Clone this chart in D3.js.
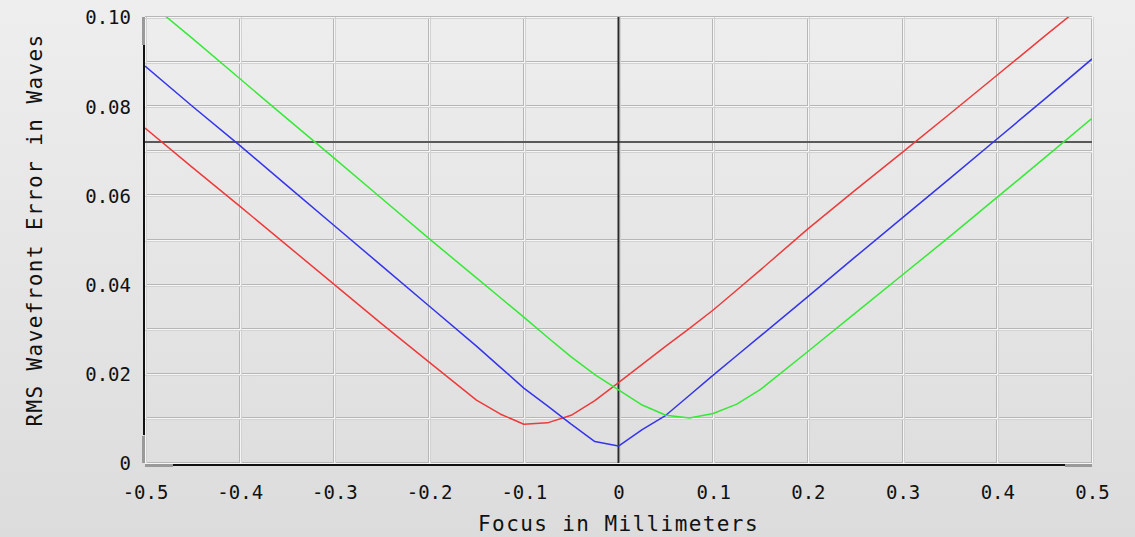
<!DOCTYPE html>
<html>
<head>
<meta charset="utf-8">
<script src="https://cdn.jsdelivr.net/npm/d3@7"></script>
<style>
  html, body { margin: 0; padding: 0; background: #e4e4e4; }
  svg { display: block; }
  text { font-family: "DejaVu Sans Mono", monospace; fill: #111; }
</style>
</head>
<body>
<svg id="chart" width="1135" height="537"></svg>
<script>
// Focus positions (mm) at which the wavefront error was sampled
const focusMm = [-0.5, -0.45, -0.4, -0.35, -0.3, -0.25, -0.2, -0.15, -0.125, -0.1, -0.075, -0.05, -0.025,
                 0, 0.025, 0.05, 0.075, 0.1, 0.125, 0.15, 0.2, 0.25, 0.3, 0.35, 0.4, 0.45, 0.5];

// RMS wavefront error (waves) per wavelength
const redRms   = [0.0751, 0.0663, 0.0576, 0.0488, 0.0400, 0.0312, 0.0226, 0.0141, 0.0110, 0.0087, 0.0090, 0.0107, 0.0140,
                  0.0180, 0.0221, 0.0262, 0.0302, 0.0343, 0.0388, 0.0433, 0.0525, 0.0612, 0.0697, 0.0783, 0.0870, 0.0957, 0.1043];
const blueRms  = [0.0890, 0.0800, 0.0712, 0.0622, 0.0532, 0.0442, 0.0352, 0.0262, 0.0215, 0.0168, 0.0128, 0.0087, 0.0048,
                  0.0038, 0.0075, 0.0107, 0.0152, 0.0197, 0.0241, 0.0285, 0.0373, 0.0462, 0.0550, 0.0638, 0.0727, 0.0816, 0.0906];
const greenRms = [0.1040, 0.0952, 0.0862, 0.0772, 0.0683, 0.0593, 0.0503, 0.0415, 0.0371, 0.0327, 0.0282, 0.0238, 0.0198,
                  0.0164, 0.0130, 0.0107, 0.0101, 0.0111, 0.0132, 0.0165, 0.0250, 0.0336, 0.0422, 0.0508, 0.0596, 0.0684, 0.0773];

const seriesColors = ["#ee3a3a", "#3434ec", "#34ea34"];

// Tolerance reference line (waves)
const toleranceRms = 0.072;

// Tick values
const xTicks = [-0.5, -0.4, -0.3, -0.2, -0.1, 0, 0.1, 0.2, 0.3, 0.4, 0.5];
const yTicks = [0, 0.02, 0.04, 0.06, 0.08, 0.10];
const yGrid  = [0, 0.01, 0.02, 0.03, 0.04, 0.05, 0.06, 0.07, 0.08, 0.09, 0.10];

const svg = d3.select("#chart");
const W = 1135, H = 537;
const pLeft = 145, pRight = 1092, pTop = 17, pBottom = 463;

const x = d3.scaleLinear().domain([-0.5, 0.5]).range([pLeft, pRight]);
const y = d3.scaleLinear().domain([0, 0.1]).range([pBottom, pTop]);

// Background gradient
const defs = svg.append("defs");
const bg = defs.append("linearGradient").attr("id", "bg").attr("x1", 0).attr("y1", 0).attr("x2", 0).attr("y2", 1);
bg.append("stop").attr("offset", "0%").attr("stop-color", "#eeeeee");
bg.append("stop").attr("offset", "100%").attr("stop-color", "#dcdcdc");
svg.append("rect").attr("width", W).attr("height", H).attr("fill", "url(#bg)");

defs.append("clipPath").attr("id", "plotClip")
  .append("rect").attr("x", pLeft).attr("y", pTop).attr("width", pRight - pLeft).attr("height", pBottom - pTop);

// Embossed grid: a shaded edge, a highlight, and a soft edge
const grid = svg.append("g").attr("shape-rendering", "crispEdges");
const gridStyle = [[-1, "#b6b6b6"], [0, "#f6f6f6"], [1, "#d2d2d2"]];
gridStyle.forEach(([off, col]) => {
  grid.append("g").selectAll("line").data(xTicks).join("line")
    .attr("x1", d => Math.round(x(d)) + off + 0.5).attr("x2", d => Math.round(x(d)) + off + 0.5)
    .attr("y1", pTop).attr("y2", pBottom)
    .attr("stroke", col).attr("stroke-width", 1);
  grid.append("g").selectAll("line").data(yGrid).join("line")
    .attr("y1", d => Math.round(y(d)) + off + 0.5).attr("y2", d => Math.round(y(d)) + off + 0.5)
    .attr("x1", pLeft).attr("x2", pRight)
    .attr("stroke", col).attr("stroke-width", 1);
});

// Reference lines: tolerance level and nominal focus
svg.append("line")
  .attr("x1", pLeft).attr("x2", pRight)
  .attr("y1", y(toleranceRms)).attr("y2", y(toleranceRms))
  .attr("stroke", "#595959").attr("stroke-width", 2);
svg.append("line")
  .attr("x1", x(0)).attr("x2", x(0))
  .attr("y1", pTop).attr("y2", pBottom)
  .attr("stroke", "#2a2a2a").attr("stroke-width", 2);

// Axis rails with end caps
const rails = svg.append("g").attr("shape-rendering", "crispEdges");
rails.append("rect").attr("x", pLeft - 3).attr("y", pTop).attr("width", 3).attr("height", 28).attr("fill", "#9a9a9a");
rails.append("rect").attr("x", pLeft - 2).attr("y", pTop + 28).attr("width", 2).attr("height", 390).attr("fill", "#111");
rails.append("rect").attr("x", pLeft - 3).attr("y", pBottom - 27).attr("width", 3).attr("height", 27).attr("fill", "#9a9a9a");
rails.append("rect").attr("x", pLeft).attr("y", pBottom + 1).attr("width", 28).attr("height", 3).attr("fill", "#9a9a9a");
rails.append("rect").attr("x", pLeft + 28).attr("y", pBottom + 1).attr("width", 892).attr("height", 2).attr("fill", "#111");
rails.append("rect").attr("x", pRight - 27).attr("y", pBottom + 1).attr("width", 27).attr("height", 3).attr("fill", "#9a9a9a");

// Series lines
const line = d3.line().x((d, i) => x(focusMm[i])).y(d => y(d));
const plot = svg.append("g").attr("clip-path", "url(#plotClip)");
[redRms, blueRms, greenRms].forEach((vals, k) => {
  plot.append("path").datum(vals)
    .attr("d", line)
    .attr("fill", "none")
    .attr("stroke", seriesColors[k])
    .attr("stroke-width", 1.5)
    .attr("stroke-linejoin", "round");
});

// Axes
const fmtX = d => d === 0 ? "0" : d3.format(".1f")(d).replace("−", "-");
const fmtY = d => d === 0 ? "0" : d3.format(".2f")(d);

const yAxis = svg.append("g").attr("transform", `translate(${pLeft},0)`)
  .call(d3.axisLeft(y).tickValues(yTicks).tickFormat(fmtY).tickSize(0).tickPadding(14));
yAxis.select(".domain").remove();
yAxis.selectAll("text")
  .attr("font-family", "DejaVu Sans Mono, monospace")
  .attr("font-size", 19).attr("fill", "#111").attr("dy", "0.36em");

const xAxis = svg.append("g").attr("transform", `translate(0,${pBottom})`)
  .call(d3.axisBottom(x).tickValues(xTicks).tickFormat(fmtX).tickSize(0).tickPadding(0));
xAxis.select(".domain").remove();
xAxis.selectAll("text")
  .attr("font-family", "DejaVu Sans Mono, monospace")
  .attr("font-size", 19).attr("fill", "#111")
  .attr("y", 29).attr("dy", "0.36em");

// Axis titles
svg.append("text")
  .attr("x", (pLeft + pRight) / 2).attr("y", 531)
  .attr("text-anchor", "middle")
  .attr("font-size", 21).attr("letter-spacing", 1.4)
  .text("Focus in Millimeters");
svg.append("text")
  .attr("transform", `translate(42,230) rotate(-90)`)
  .attr("text-anchor", "middle")
  .attr("font-size", 21).attr("letter-spacing", 1.4)
  .text("RMS Wavefront Error in Waves");
</script>
</body>
</html>
